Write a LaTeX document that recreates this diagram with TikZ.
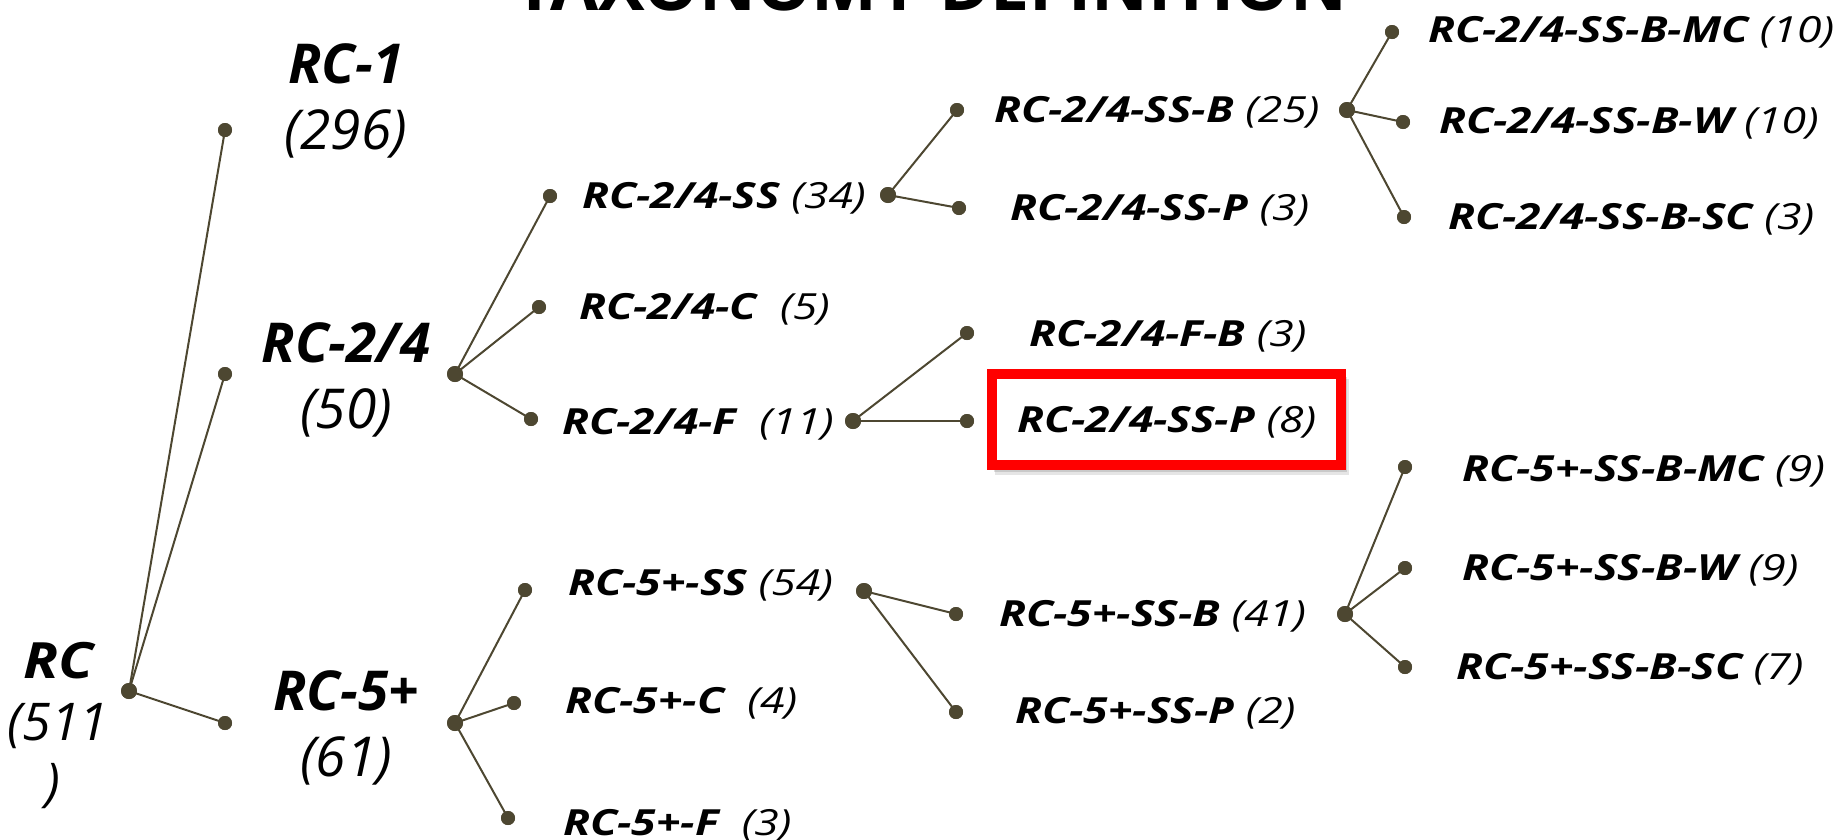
\documentclass[tikz,border=0pt]{standalone}
\usepackage{fontspec}
\setmainfont{Open Sans}
\newfontfamily\lblfont{Open Sans}[FakeStretch=1.235]
\usetikzlibrary{positioning}
\definecolor{olivec}{RGB}{77,71,49}
\newcommand\labtxt[2]{{\bfseries #1}\ {\mdseries #2}}
\begin{document}
\begin{tikzpicture}[x=1pt,y=-1pt,
  ln/.style={draw=olivec, line width=2pt},
  dot/.style={circle, fill=olivec, inner sep=0pt, minimum size=14pt},
  hub/.style={circle, fill=olivec, inner sep=0pt, minimum size=16pt},
  lbl/.style={anchor=base west, inner sep=0pt, font=\lblfont\fontsize{36}{40}\selectfont\itshape},
  big/.style={anchor=base, inner sep=0pt, font=\fontsize{55}{60}\selectfont\bfseries\itshape},
  bigc/.style={anchor=base, inner sep=0pt, font=\fontsize{55}{60}\selectfont\mdseries\itshape},
  rootf/.style={anchor=base, inner sep=0pt, font=\fontsize{52}{58}\selectfont\itshape},
  redbox/.style={draw=red, fill=white, line width=10pt, inner sep=0pt},
]
\useasboundingbox (0,0) rectangle (1837,839);
% title (cut at the top)
\node[anchor=base, inner sep=0pt] (title) at (931,10) {\resizebox{832pt}{!}{\bfseries TAXONOMY DEFINITION}};

% highlight box with shadow
\fill[black, opacity=0.10] (995,379) rectangle (1349,475);
\fill[black, opacity=0.12] (994,377) rectangle (1347,472);
\node[redbox, minimum width=349pt, minimum height=91pt] (hl) at (1166.5,419.5) {};

% dots
\node[hub] (rc) at (129,691) {};
\node[dot] (d1) at (225,130) {};
\node[dot] (d24) at (225,374) {};
\node[dot] (d5) at (225,723) {};
\node[hub] (h24) at (455,374) {};
\node[hub] (h5) at (455,723) {};
\node[dot] (d24ss) at (550,196) {};
\node[dot] (d24c) at (539,307) {};
\node[dot] (d24f) at (531,419) {};
\node[dot] (d5ss) at (525,590) {};
\node[dot] (d5c) at (514,703) {};
\node[dot] (d5f) at (508,818) {};
\node[hub] (h24ss) at (888,195) {};
\node[hub] (h24f) at (853,421) {};
\node[hub] (h5ss) at (864,591) {};
\node[dot] (d24ssb) at (957,110) {};
\node[dot] (d24ssp) at (959,208) {};
\node[dot] (d24fb) at (967,333) {};
\node[dot] (d24fp) at (967,421) {};
\node[dot] (d5ssb) at (956,614) {};
\node[dot] (d5ssp) at (956,712) {};
\node[hub] (h24ssb) at (1347,110) {};
\node[hub] (h5ssb) at (1345,614) {};
\node[dot] (d24mc) at (1392,32) {};
\node[dot] (d24w) at (1403,122) {};
\node[dot] (d24sc) at (1404,217) {};
\node[dot] (d5mc) at (1405,467) {};
\node[dot] (d5w) at (1405,568) {};
\node[dot] (d5sc) at (1405,667) {};

% connectors
\foreach \a/\b in {rc/d1, rc/d24, rc/d5,
  h24/d24ss, h24/d24c, h24/d24f, h5/d5ss, h5/d5c, h5/d5f,
  h24ss/d24ssb, h24ss/d24ssp, h24f/d24fb, h24f/d24fp, h5ss/d5ssb, h5ss/d5ssp,
  h24ssb/d24mc, h24ssb/d24w, h24ssb/d24sc, h5ssb/d5mc, h5ssb/d5w, h5ssb/d5sc}
  \draw[ln] (\a.center) -- (\b.center);
% redraw dots on top
\foreach \n in {rc,h24,h5,h24ss,h24f,h5ss,h24ssb,h5ssb}
  \fill[olivec] (\n.center) circle (8pt);
\foreach \n in {d1,d24,d5,d24ss,d24c,d24f,d5ss,d5c,d5f,d24ssb,d24ssp,d24fb,d24fp,d5ssb,d5ssp,d24mc,d24w,d24sc,d5mc,d5w,d5sc}
  \fill[olivec] (\n.center) circle (7pt);

% root label
\node[rootf, font=\fontsize{50}{58}\selectfont\bfseries\itshape] (rcn) at (59,678) {\scalebox{1.15}[1]{RC}};
\node[rootf] (rcc1) at (58,740) {(511};
\node[rootf] (rcc2) at (53,800) {)};

% level 1 labels
\node[big] (l1n) at (346,83) {RC-1};
\node[bigc] (l1c) at (346,149) {(296)};
\node[big] (l24n) at (346,362) {RC-2/4};
\node[bigc] (l24c) at (346,428) {(50)};
\node[big] (l5n) at (346,710) {RC-5+};
\node[bigc] (l5c) at (346,776) {(61)};

% level 2 labels
\node[lbl] (t24ss) at (582,208) {\labtxt{RC-2/4-SS}{(34)}};
\node[lbl] (t24c) at (579,319) {\labtxt{RC-2/4-C}{\ (5)}};
\node[lbl] (t24f) at (562,434) {\labtxt{RC-2/4-F}{\ (11)}};
\node[lbl] (t5ss) at (568,595) {\labtxt{RC-5+-SS}{(54)}};
\node[lbl] (t5c) at (565,713) {\labtxt{RC-5+-C}{\ (4)}};
\node[lbl] (t5f) at (563,835) {\labtxt{RC-5+-F}{\ (3)}};

% level 3 labels
\node[lbl] (t24ssb) at (994,122) {\labtxt{RC-2/4-SS-B}{(25)}};
\node[lbl] (t24ssp) at (1010,220) {\labtxt{RC-2/4-SS-P}{(3)}};
\node[lbl] (t24fb) at (1029,346) {\labtxt{RC-2/4-F-B}{(3)}};
\node[lbl] (t24fp) at (1017,432) {\labtxt{RC-2/4-SS-P}{(8)}};
\node[lbl] (t5ssb) at (999,626) {\labtxt{RC-5+-SS-B}{(41)}};
\node[lbl] (t5ssp) at (1015,723) {\labtxt{RC-5+-SS-P}{(2)}};

% level 4 labels
\node[lbl] (t24mc) at (1428,42) {\labtxt{RC-2/4-SS-B-MC}{(10)}};
\node[lbl] (t24w) at (1439,133) {\labtxt{RC-2/4-SS-B-W}{(10)}};
\node[lbl] (t24sc) at (1448,229) {\labtxt{RC-2/4-SS-B-SC}{(3)}};
\node[lbl] (t5mc) at (1462,481) {\labtxt{RC-5+-SS-B-MC}{(9)}};
\node[lbl] (t5w) at (1462,580) {\labtxt{RC-5+-SS-B-W}{(9)}};
\node[lbl] (t5sc) at (1456,679) {\labtxt{RC-5+-SS-B-SC}{(7)}};
\end{tikzpicture}
\end{document}
